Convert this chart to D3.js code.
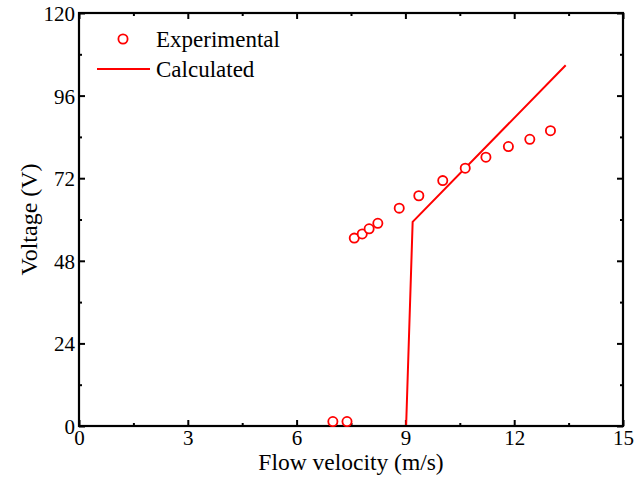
<!DOCTYPE html>
<html>
<head>
<meta charset="utf-8">
<script src="https://cdn.jsdelivr.net/npm/d3@7"></script>
<style>
  body { margin: 0; background: #fff; }
  svg text { font-family: "Liberation Serif", "Times New Roman", serif; fill: #000; }
</style>
</head>
<body>
<svg id="chart" width="635" height="481"></svg>
<script>
// experimental points
const expVelocity = [7.0, 7.39, 7.59, 7.81, 8.0, 8.24, 8.83, 9.37, 10.03, 10.65, 11.22, 11.84, 12.43, 13.0];
const expVoltage = [1.3, 1.3, 54.6, 55.8, 57.3, 58.9, 63.3, 66.9, 71.3, 74.9, 78.1, 81.2, 83.3, 85.8];

// calculated curve
const calcVelocity = [7.0, 9.02, 9.2, 13.42];
const calcVoltage = [0, 0, 59.3, 104.8];

const xTicks = [0, 3, 6, 9, 12, 15];
const yTicks = [0, 24, 48, 72, 96, 120];

const svg = d3.select("#chart");
const margin = { top: 13, right: 12, bottom: 55, left: 79 };
const width = 635 - margin.left - margin.right;
const height = 481 - margin.top - margin.bottom;

const g = svg.append("g").attr("transform", `translate(${margin.left},${margin.top})`);

const x = d3.scaleLinear().domain([0, 15]).range([0, width]);
const y = d3.scaleLinear().domain([0, 120]).range([height, 0]);

const minorX = d3.range(1.5, 15, 3);
const minorY = d3.range(12, 120, 24);

// inward ticks on all four sides
function tickAxis(axisFn, scale, ticks, size, labels) {
  return axisFn(scale).tickValues(ticks).tickSizeInner(-size).tickSizeOuter(0)
    .tickFormat(labels ? d3.format("d") : "");
}

function styleAxis(sel) {
  sel.select(".domain").remove();
  sel.selectAll("line").attr("stroke", "#000").attr("stroke-width", 2);
  sel.selectAll("text").style("font-size", "21px");
}

g.append("g").attr("transform", `translate(0,${height})`)
  .call(tickAxis(d3.axisBottom, x, xTicks, 6, true)).call(styleAxis)
  .selectAll("text").attr("dy", "0.71em").attr("y", 4);
g.append("g").attr("transform", `translate(0,${height})`)
  .call(tickAxis(d3.axisBottom, x, minorX, 3, false)).call(styleAxis);
g.append("g")
  .call(tickAxis(d3.axisTop, x, xTicks, 6, false)).call(styleAxis);
g.append("g")
  .call(tickAxis(d3.axisTop, x, minorX, 3, false)).call(styleAxis);

g.append("g")
  .call(tickAxis(d3.axisLeft, y, yTicks, 6, true)).call(styleAxis)
  .selectAll("text").attr("x", -4).attr("dy", "0.36em");
g.append("g")
  .call(tickAxis(d3.axisLeft, y, minorY, 3, false)).call(styleAxis);
g.append("g").attr("transform", `translate(${width},0)`)
  .call(tickAxis(d3.axisRight, y, yTicks, 6, false)).call(styleAxis);
g.append("g").attr("transform", `translate(${width},0)`)
  .call(tickAxis(d3.axisRight, y, minorY, 3, false)).call(styleAxis);

// calculated line
const calcData = calcVelocity.map((v, i) => [v, calcVoltage[i]]);
g.append("path")
  .datum(calcData)
  .attr("fill", "none")
  .attr("stroke", "#ff0000")
  .attr("stroke-width", 2)
  .attr("d", d3.line().x(d => x(d[0])).y(d => y(d[1])));

// frame
g.append("rect")
  .attr("width", width).attr("height", height)
  .attr("fill", "none").attr("stroke", "#000").attr("stroke-width", 2.2);

// experimental circles
const expData = expVelocity.map((v, i) => [v, expVoltage[i]]);
g.selectAll("circle.exp")
  .data(expData)
  .enter()
  .append("circle")
  .attr("class", "exp")
  .attr("cx", d => x(d[0]))
  .attr("cy", d => y(d[1]))
  .attr("r", 4.6)
  .attr("fill", "#fff")
  .attr("stroke", "#ff0000")
  .attr("stroke-width", 1.8);

// axis titles
svg.append("text")
  .attr("x", 351)
  .attr("y", 470)
  .attr("text-anchor", "middle")
  .style("font-size", "23.5px")
  .text("Flow velocity (m/s)");

svg.append("text")
  .attr("transform", `translate(37,${margin.top + height / 2}) rotate(-90)`)
  .attr("text-anchor", "middle")
  .style("font-size", "24px")
  .text("Voltage (V)");

// legend
svg.append("circle")
  .attr("cx", 123).attr("cy", 39).attr("r", 4.6)
  .attr("fill", "#fff").attr("stroke", "#ff0000").attr("stroke-width", 1.8);
svg.append("text").attr("x", 156).attr("y", 47).style("font-size", "23px").text("Experimental");
svg.append("line")
  .attr("x1", 97).attr("x2", 150).attr("y1", 69).attr("y2", 69)
  .attr("stroke", "#ff0000").attr("stroke-width", 2);
svg.append("text").attr("x", 156).attr("y", 77).style("font-size", "23px").text("Calculated");
</script>
</body>
</html>
